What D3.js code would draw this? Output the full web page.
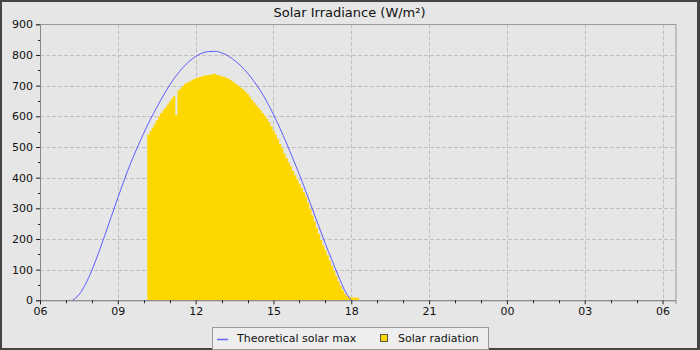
<!DOCTYPE html>
<html><head><meta charset="utf-8">
<script src="https://cdn.jsdelivr.net/npm/d3@7"></script>
<style>
html,body{margin:0;padding:0;background:#444;}
svg{display:block;font-family:"DejaVu Sans",sans-serif;}
</style></head>
<body><svg id="chart" width="700" height="350"></svg>
<script>
// ---- data ----
const title = "Solar Irradiance (W/m²)";
const seriesNames = ["Theoretical solar max", "Solar radiation"];
// theoretical max: start time 07:15, every 15 minutes
const theoStart = "07:15";
const theoStepMin = 15;
const theoValues = [0,18,52,98,153,212,273,334,393,448,498,545,589,629,667,702,732,758,779,795,806,811,812,807,797,782,764,741,714,683,647,606,561,513,462,410,355,298,241,185,132,80,32,0];
// measured radiation: start time 10:08, every 5 minutes
const radStart = "10:08";
const radStepMin = 5;
const radValues = [540,551,563,574,587,599,611,620,629,638,648,657,666,604,684,691,699,705,709,713,717,721,724,726,728,731,733,734,735,736,737,739,735,733,731,729,726,723,719,714,709,704,699,693,687,681,673,664,654,645,636,628,620,611,603,592,580,567,553,541,526,510,495,479,464,450,436,422,408,394,380,366,352,338,318,297,277,257,236,216,196,179,163,147,130,113,96,79,62,47,33,21,14,10,10,9,9,8];
const yTicks = [0,100,200,300,400,500,600,700,800,900];
const xTickLabels = ["06","09","12","15","18","21","00","03","06"];

// ---- helpers ----
const day0 = new Date(2024,0,1,0,0);
function t(hhmm, addMin){ const [h,m]=hhmm.split(":").map(Number); return new Date(day0.getTime() + ((h*60+m)+addMin)*60000); }
const theo = theoValues.map((v,i)=>({t:t(theoStart,i*theoStepMin), v}));
const rad = radValues.map((v,i)=>({t:t(radStart,i*radStepMin), v}));
rad.push({t:t(radStart,radValues.length*radStepMin), v:radValues[radValues.length-1]});

const L=40,R=675.5,T=24.3,B=300.3;
const svg=d3.select("#chart");
svg.append("rect").attr("x",2).attr("y",2).attr("width",695).attr("height",346).attr("fill","#e6e6e6");

const x=d3.scaleTime().domain([t("06:00",0), t("06:30",24*60)]).range([L,R]);
const y=d3.scaleLinear().domain([0,900]).range([B,T]);

// grid
const gridColor="#c0c0c0";
const xTickTimes = xTickLabels.map((s,i)=>t("06:00",i*180));
svg.append("g").selectAll("line").data(yTicks.slice(1)).join("line")
  .attr("x1",L).attr("x2",R).attr("y1",d=>Math.round(y(d))+0.5).attr("y2",d=>Math.round(y(d))+0.5)
  .attr("stroke",gridColor).attr("stroke-dasharray","4,2");
svg.append("g").selectAll("line").data(xTickTimes.slice(1)).join("line")
  .attr("y1",T).attr("y2",B).attr("x1",d=>Math.round(x(d))+0.5).attr("x2",d=>Math.round(x(d))+0.5)
  .attr("stroke",gridColor).attr("stroke-dasharray","4,2");

// area (step)
const area=d3.area().x(d=>x(d.t)).y0(y(0)).y1(d=>y(d.v)).curve(d3.curveStepAfter);
svg.append("path").datum(rad).attr("d",area).attr("fill","#ffd700");

// line
const line=d3.line().x(d=>x(d.t)).y(d=>y(d.v)).curve(d3.curveMonotoneX);
svg.append("path").datum(theo).attr("d",line).attr("fill","none").attr("stroke","#5c5cff").attr("stroke-width",1);

// plot frame
svg.append("rect").attr("x",L+0.5).attr("y",Math.round(T)+0.5).attr("width",Math.round(R-L)-0.5).attr("height",Math.round(B-T))
  .attr("fill","none").attr("stroke","#9a9a9a");

// y axis
const yAxis=d3.axisLeft(y).tickValues(yTicks).tickSize(4).tickPadding(3).tickFormat(d3.format("d"));
const gy=svg.append("g").attr("transform",`translate(${L},0)`).call(yAxis);
gy.select(".domain").attr("stroke","#888");
gy.selectAll(".tick line").attr("stroke","#222");
gy.selectAll("text").attr("font-size",11).attr("fill","#111").attr("font-family","DejaVu Sans");
const yMinor=d3.range(50,900,100);
svg.append("g").selectAll("line").data(yMinor).join("line")
  .attr("x1",L-2).attr("x2",L).attr("y1",d=>Math.round(y(d))+0.5).attr("y2",d=>Math.round(y(d))+0.5).attr("stroke","#222");

// x axis
const xAxis=d3.axisBottom(x).tickValues(xTickTimes).tickSize(4).tickPadding(3).tickFormat((d,i)=>xTickLabels[i]);
const gx=svg.append("g").attr("transform",`translate(0,${B})`).call(xAxis);
gx.select(".domain").attr("stroke","#888");
gx.selectAll(".tick line").attr("stroke","#222");
gx.selectAll("text").attr("font-size",11).attr("fill","#111").attr("font-family","DejaVu Sans");
const xMinor=d3.range(0,25).filter(h=>h%3!==0).map(h=>t("06:00",h*60));
svg.append("g").selectAll("line").data(xMinor).join("line")
  .attr("y1",B).attr("y2",B+3).attr("x1",d=>Math.round(x(d))+0.5).attr("x2",d=>Math.round(x(d))+0.5).attr("stroke","#222");

// title
svg.append("text").attr("x",349.5).attr("y",16.5).attr("text-anchor","middle").attr("font-size",13).attr("fill","#111").text(title);

// legend
const lg=svg.append("g");
lg.append("rect").attr("x",212.5).attr("y",327.5).attr("width",276).attr("height",22).attr("fill","#eeeeee").attr("stroke","#999");
lg.append("line").attr("x1",217).attr("x2",228).attr("y1",339.5).attr("y2",339.5).attr("stroke","#6666ff").attr("stroke-width",1.5);
lg.append("text").attr("x",237).attr("y",342).attr("font-size",11).attr("fill","#111").text(seriesNames[0]);
lg.append("rect").attr("x",380.5).attr("y",334.5).attr("width",7).attr("height",7).attr("fill","#ffd700").attr("stroke","#555");
lg.append("text").attr("x",398).attr("y",342).attr("font-size",11).attr("fill","#111").text(seriesNames[1]);
</script></body></html>
